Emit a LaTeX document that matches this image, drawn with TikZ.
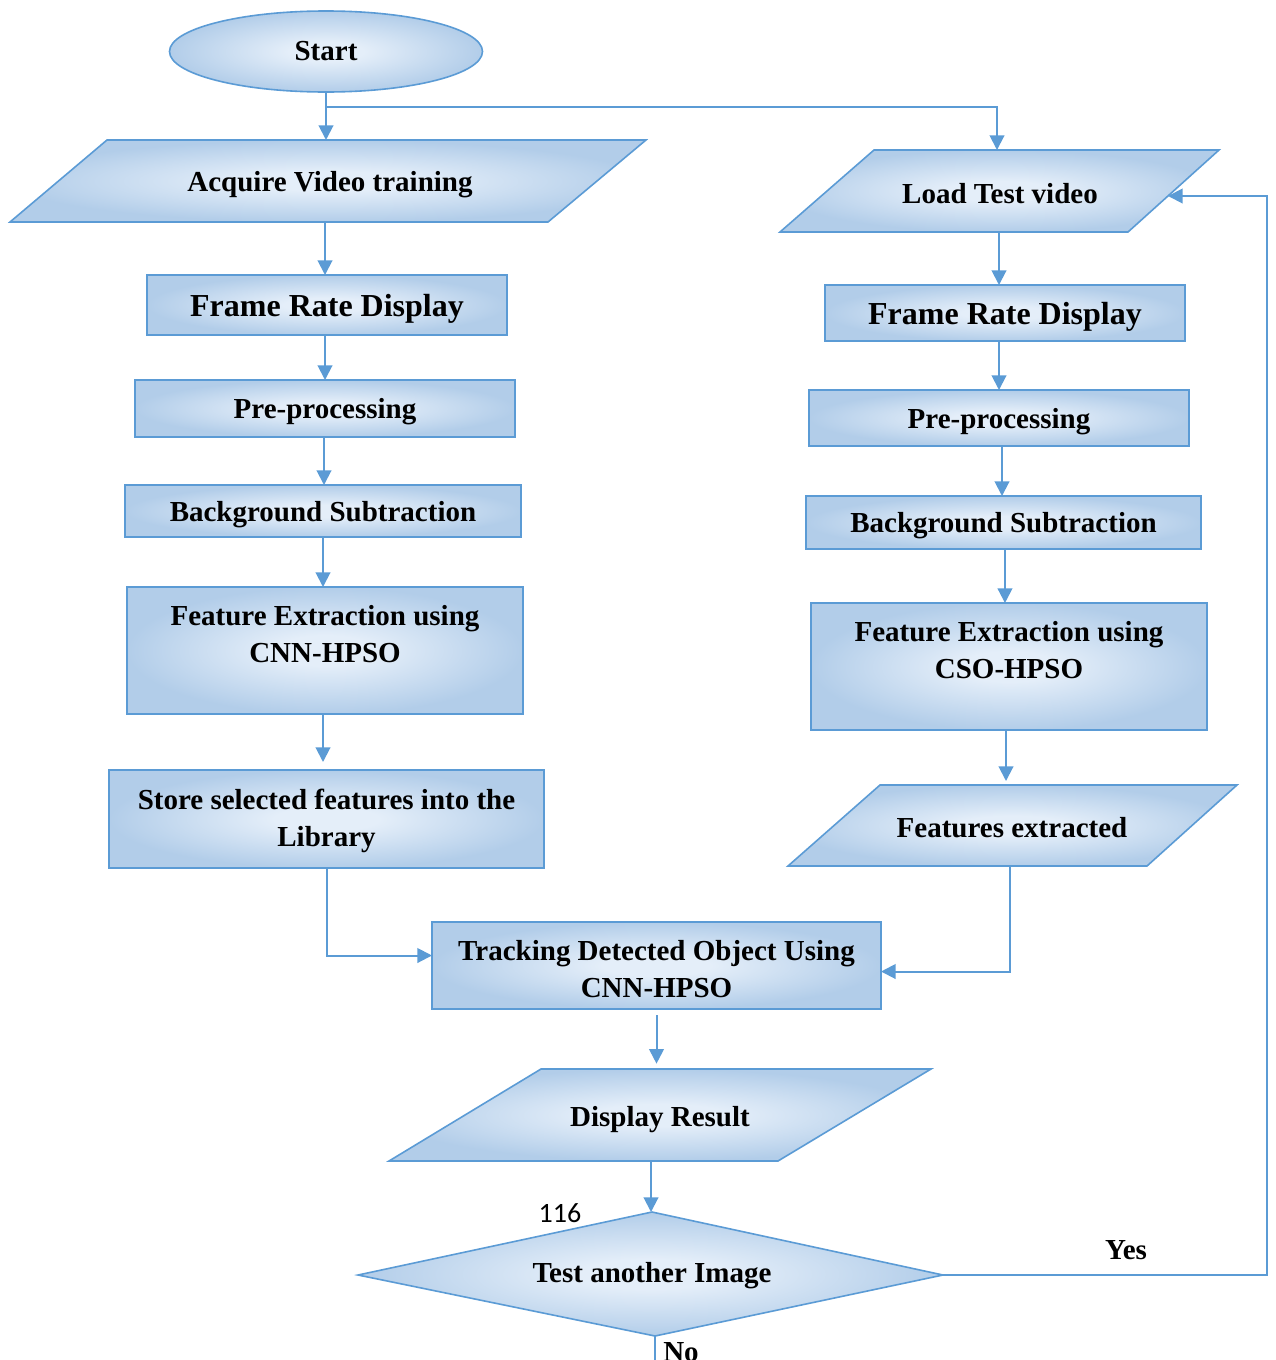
\documentclass[tikz,border=0pt]{standalone}
\usepackage{fontspec}
\setmainfont{Liberation Serif}
\newfontfamily\numfont{Carlito}
\usetikzlibrary{shapes.geometric,arrows.meta}

\definecolor{edge}{HTML}{5B9BD5}
\definecolor{bxin}{HTML}{E4EEF9}
\definecolor{bxout}{HTML}{B2CDE9}
\pgfdeclareradialshading{boxsh}{\pgfpoint{0bp}{0bp}}{color(0bp)=(bxin); color(6bp)=(bxin); color(25bp)=(bxout); color(50bp)=(bxout)}

\tikzset{
  boxbase/.style={draw=edge, line width=1.2pt, shade, shading=boxsh, inner sep=0pt, outer sep=0pt},
  sz/.style 2 args={minimum width=#1*0.75pt, minimum height=#2*0.75pt},
  rbox/.style={boxbase, rectangle},
  oval/.style={boxbase, ellipse},
  para/.style={draw=edge, line width=1.2pt, shade, shading=boxsh},
  txt/.style={font=\fontsize{21.75}{27.5}\selectfont\bfseries, align=center, inner sep=0pt},
  bigtxt/.style={font=\fontsize{24}{28}\selectfont\bfseries, align=center},
  flat/.style={text depth=0pt},
  arr/.style={draw=edge, line width=1.5pt, -{Triangle[width=11pt,length=11pt]}},
  link/.style={draw=edge, line width=1.5pt},
}

\begin{document}
\begin{tikzpicture}[x=0.75pt,y=-0.75pt]
\useasboundingbox (0,0) rectangle (1275,1360);
\clip (0,0) rectangle (1275,1360);

% ---------- training branch ----------
\node[oval, sz={313}{81}, txt] (start) at (326,51.5) {Start};

\path[para] (107,140) -- (646,140) -- (548,222) -- (10,222) -- cycle;
\node[txt, flat] (acq) at (330,181) {Acquire Video training};
\coordinate (acq-n) at (326,140);
\coordinate (acq-s) at (325,222);

\node[rbox, sz={360}{60}, bigtxt, flat] (fr1) at (327,305) {Frame Rate Display};
\node[rbox, sz={380}{57}, txt, flat] (pre1) at (325,408.5) {Pre-processing};
\node[rbox, sz={396}{52}, txt, flat] (bg1) at (323,511) {Background Subtraction};
\node[rbox, sz={396}{127}] (fe1) at (325,650.5) {};
\node[txt] (fe1t) at (325,634) {Feature Extraction using\\CNN-HPSO};
\node[rbox, sz={435}{98}] (sto) at (326.5,819) {};
\node[txt] (stot) at (326.5,821) {Store selected features into the\\Library};

% ---------- test branch ----------
\path[para] (874,150) -- (1219,150) -- (1128,232) -- (780,232) -- cycle;
\node[txt, flat] (ld) at (1000,193) {Load Test video};
\coordinate (ld-n) at (997,150);
\coordinate (ld-s) at (999,232);
\coordinate (ld-e) at (1168,196);

\node[rbox, sz={360}{56}, bigtxt, flat] (fr2) at (1005,313) {Frame Rate Display};
\node[rbox, sz={380}{56}, txt, flat] (pre2) at (999,418) {Pre-processing};
\node[rbox, sz={395}{53}, txt, flat] (bg2) at (1003.5,522.5) {Background Subtraction};
\node[rbox, sz={396}{127}] (fe2) at (1009,666.5) {};
\node[txt] (fe2t) at (1009,650) {Feature Extraction using\\CSO-HPSO};

\path[para] (880,785) -- (1237,785) -- (1147,866) -- (788,866) -- cycle;
\node[txt, flat] (fx) at (1012,827) {Features extracted};
\coordinate (fx-n) at (1006,785);
\coordinate (fx-s) at (1010,866);

% ---------- common part ----------
\node[rbox, sz={449}{87}] (trk) at (656.5,965.5) {};
\node[txt] (trkt) at (656.5,969) {Tracking Detected Object Using\\CNN-HPSO};

\path[para] (541,1069) -- (931,1069) -- (778,1161) -- (389,1161) -- cycle;
\node[txt, flat] (dr) at (660,1116) {Display Result};
\coordinate (dr-n) at (657,1069);
\coordinate (dr-s) at (651,1161);

\path[para] (652,1212) -- (943,1275) -- (655,1336) -- (358,1275) -- cycle;
\node[txt, flat] (dia) at (652,1272) {Test another Image};
\coordinate (dia-n) at (652,1212);
\coordinate (dia-e) at (943,1275);
\coordinate (dia-s) at (655,1336);
\coordinate (noend) at (655,1360);
\coordinate (split) at (326,107);

\node[font=\numfont\fontsize{21}{24}\selectfont, inner sep=0pt] (pg) at (560,1213) {116};
\node[txt] (yes) at (1126,1250) {Yes};
\node[txt] (no) at (681,1352) {No};

% ---------- connectors ----------
\draw[link] (start.south) -- (split);
\draw[arr] (split) -- (acq-n);
\draw[arr] (split) -| (ld-n);

\draw[arr] (acq-s) -- (acq-s |- fr1.north);
\draw[arr] ([xshift=-1.5pt]fr1.south) -- ([xshift=-1.5pt]fr1.south |- pre1.north);
\draw[arr] ([xshift=-0.75pt]pre1.south) -- ([xshift=-0.75pt]pre1.south |- bg1.north);
\draw[arr] (bg1.south) -- (bg1.south |- fe1.north);
\draw[arr, shorten >=6pt] ([xshift=-1.5pt]fe1.south) -- ([xshift=-1.5pt]fe1.south |- sto.north);
\draw[arr] (sto.south) |- ([yshift=7.5pt]trk.west);

\draw[arr] (ld-s) -- (ld-s |- fr2.north);
\draw[arr] ([xshift=-4.5pt]fr2.south) -- ([xshift=-4.5pt]fr2.south |- pre2.north);
\draw[arr] ([xshift=2.25pt]pre2.south) -- ([xshift=2.25pt]pre2.south |- bg2.north);
\draw[arr] ([xshift=1.1pt]bg2.south) -- ([xshift=1.1pt]bg2.south |- fe2.north);
\draw[arr, shorten >=3pt] ([xshift=-2.25pt]fe2.south) -- ([xshift=-2.25pt]fe2.south |- fx-n);
\draw[arr] (fx-s) |- ([yshift=-4.5pt]trk.east);

\draw[arr, shorten <=4.5pt, shorten >=4pt] (trk.south) -- (trk.south |- dr-n);
\draw[arr] (dr-s) -- (dr-s |- dia-n);
\draw[arr] (dia-e) -- ++(324,0) |- (ld-e);
\draw[link] (dia-s) -- (noend);
\end{tikzpicture}
\end{document}
